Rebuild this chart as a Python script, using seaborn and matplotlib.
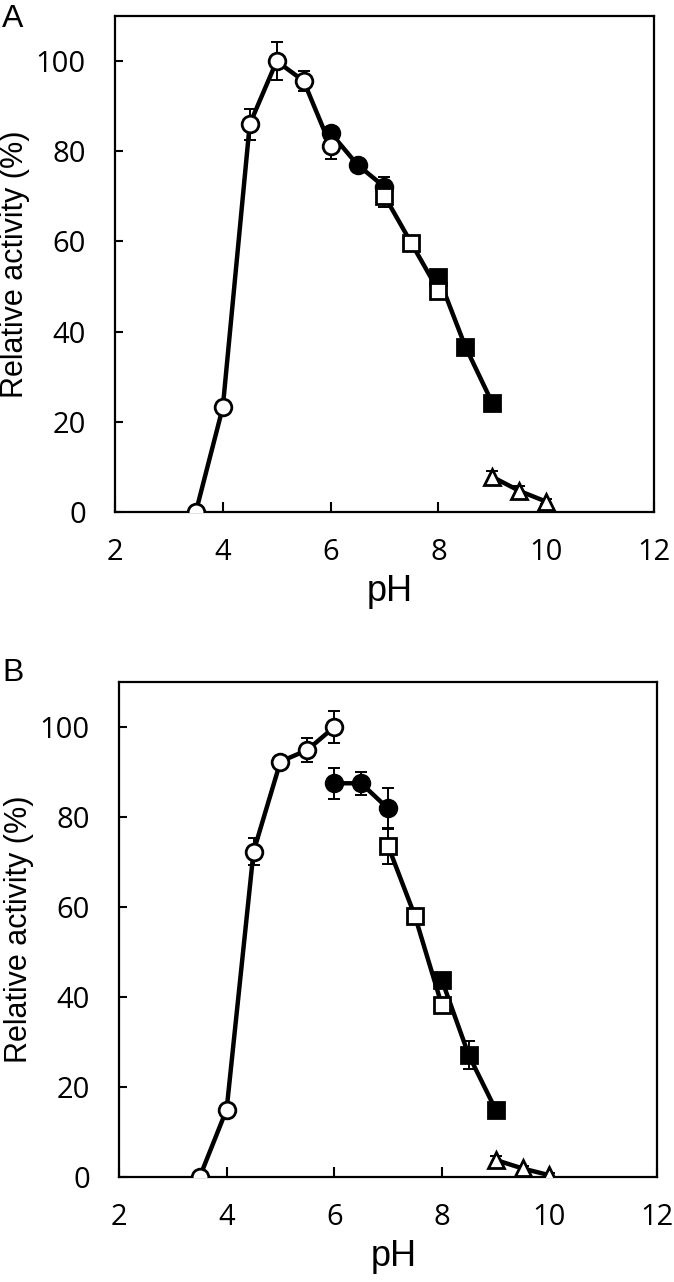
import numpy as np
import pandas as pd
import seaborn as sns
import matplotlib.pyplot as plt

# data (pH vs relative activity %)
ph_circle = [3.5, 4.0, 4.5, 5.0, 5.5, 6.0]
ph_fcircle = [6.0, 6.5, 7.0]
ph_square = [7.0, 7.5, 8.0]
ph_fsquare = [8.0, 8.5, 9.0]
ph_tri = [9.0, 9.5, 10.0]

# panel A
a_circle = [0, 23.2, 86.0, 100, 95.6, 81.2]
a_circle_err = [0, 0.5, 3.4, 4.2, 2.2, 2.8]
a_fcircle = [84.1, 77.0, 72.1]
a_fcircle_err = [1.0, 1.0, 2.2]
a_square = [70.1, 59.6, 49.1]
a_square_err = [2.4, 1.0, 1.0]
a_fsquare = [52.2, 36.7, 24.2]
a_fsquare_err = [1.5, 1.5, 1.0]
a_tri = [7.8, 4.7, 2.3]
a_tri_err = [1.2, 1.0, 0.5]

# panel B
b_circle = [0, 15.0, 72.3, 92.3, 94.9, 100]
b_circle_err = [0, 0.5, 3.0, 1.0, 2.6, 3.6]
b_fcircle = [87.5, 87.5, 81.9]
b_fcircle_err = [3.5, 2.5, 4.5]
b_square = [73.6, 58.0, 38.2]
b_square_err = [4.0, 1.0, 1.0]
b_fsquare = [43.8, 27.1, 15.0]
b_fsquare_err = [1.5, 3.2, 1.0]
b_tri = [3.8, 1.9, 0.4]
b_tri_err = [0.8, 0.5, 0.5]

xticks = [2, 4, 6, 8, 10, 12]
yticks = [0, 20, 40, 60, 80, 100]

sns.set_style("ticks", {
    'xtick.direction': 'in',
    'ytick.direction': 'in',
    'axes.edgecolor': 'black',
    'text.color': 'black',
    'axes.labelcolor': 'black',
    'xtick.color': 'black',
    'ytick.color': 'black',
})
plt.rcParams['font.family'] = ['Open Sans', 'DejaVu Sans']
plt.rcParams['axes.linewidth'] = 1.6


def draw_series(ax, x, y, err, marker, filled, z):
    ax.errorbar(x, y, yerr=err, fmt='none', ecolor='black', elinewidth=1.4,
                capsize=4.5, capthick=1.4, zorder=z)
    sns.lineplot(x=x, y=y, ax=ax, color='black', linewidth=3.2, marker=marker,
                 markersize=12 if marker != 's' else 11.5,
                 markerfacecolor='black' if filled else 'white',
                 markeredgecolor='black', markeredgewidth=2, zorder=z + 1)


def panel(ax, circ, circ_e, fcirc, fcirc_e, sq, sq_e, fsq, fsq_e, tri, tri_e):
    # filled series first, open series drawn over them
    draw_series(ax, ph_fcircle, fcirc, fcirc_e, 'o', True, 3)
    draw_series(ax, ph_fsquare, fsq, fsq_e, 's', True, 3)
    draw_series(ax, ph_circle, circ, circ_e, 'o', False, 5)
    draw_series(ax, ph_square, sq, sq_e, 's', False, 5)
    draw_series(ax, ph_tri, tri, tri_e, '^', False, 5)

    ax.set_xlim(2, 12)
    ax.set_ylim(0, 110)
    ax.set_xticks(xticks)
    ax.set_yticks(yticks)
    ax.tick_params(axis='x', length=7, width=1.5, pad=19, labelsize=21)
    ax.tick_params(axis='y', length=6, width=1.5, pad=21, labelsize=21)
    for s in ax.spines.values():
        s.set_visible(True)
        s.set_linewidth(1.6)
    ax.set_xlabel('pH', fontsize=26, family='Liberation Sans')
    ax.set_ylabel('Relative activity (%)', fontsize=22, family='Liberation Sans')
    ax.xaxis.set_label_coords(0.51, -0.125)
    ax.yaxis.set_label_coords(-0.158, 0.5)


fig = plt.figure(figsize=(6.74, 12.82), dpi=100)
ax_a = fig.add_axes([0.1706, 0.6006, 0.7997, 0.3869])
ax_b = fig.add_axes([0.1766, 0.0819, 0.7982, 0.3861])

panel(ax_a, a_circle, a_circle_err, a_fcircle, a_fcircle_err, a_square,
      a_square_err, a_fsquare, a_fsquare_err, a_tri, a_tri_err)
panel(ax_b, b_circle, b_circle_err, b_fcircle, b_fcircle_err, b_square,
      b_square_err, b_fsquare, b_fsquare_err, b_tri, b_tri_err)

fig.text(0.003, 0.997, 'A', fontsize=23, family='Liberation Sans', va='top', ha='left')
fig.text(0.003, 0.487, 'B', fontsize=23, family='Liberation Sans', va='top', ha='left')

fig.savefig('out.png', dpi=100, facecolor='white')
